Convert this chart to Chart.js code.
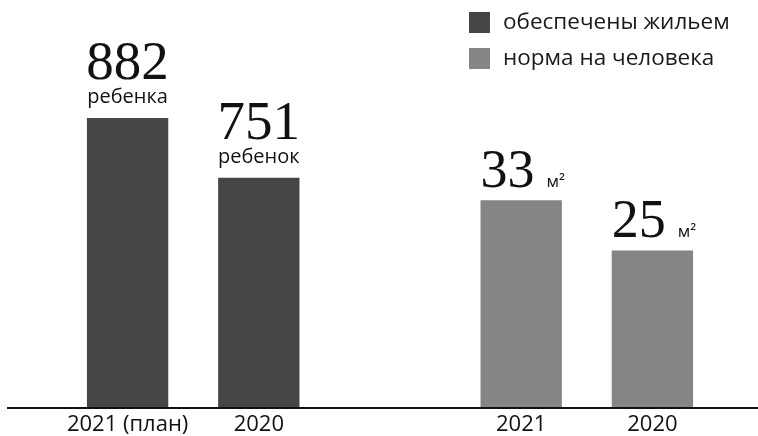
<!DOCTYPE html>
<html lang="ru">
<head>
<meta charset="utf-8">
<title>Обеспечены жильем</title>
<script src="https://cdn.jsdelivr.net/npm/chart.js@4.4.1/dist/chart.umd.min.js"></script>
<style>
  html, body { margin: 0; padding: 0; background: #fff; }
  #wrap { position: relative; width: 758px; height: 436px; }
</style>
</head>
<body>
<div id="wrap"><canvas id="grafico"></canvas></div>
<script>
// данные
const kategorii = ['2021 (план)', '2020', '', '2021', '2020'];
const obespecheny = [882, 751, null, null, null];
const obespechenyPodpisi = ['ребенка', 'ребенок', null, null, null];
const norma = [null, null, null, 33, 25];
const normaPodpisi = [null, null, null, 'м²', 'м²'];
const nazvaniya = ['обеспечены жильем', 'норма на человека'];
const cveta = ['#464646', '#858585'];

const SERIF = '"Liberation Serif", "DejaVu Serif", serif';
const SANS = '"Open Sans", "Noto Sans", sans-serif';

// подписи над столбцами + линия основания
const podpisiPlugin = {
  id: 'podpisi',
  afterDatasetsDraw(chart) {
    const ctx = chart.ctx;
    ctx.save();
    ctx.fillStyle = '#111';
    ctx.textBaseline = 'alphabetic';

    chart.getDatasetMeta(0).data.forEach((bar, i) => {
      const v = obespecheny[i];
      if (v == null) return;
      ctx.textAlign = 'center';
      ctx.font = '20px ' + SANS;
      ctx.fillText(obespechenyPodpisi[i], bar.x, bar.y - 15);
      ctx.font = '55px ' + SERIF;
      ctx.fillText(String(v), bar.x, bar.y - 39);
    });

    chart.getDatasetMeta(1).data.forEach((bar, i) => {
      const v = norma[i];
      if (v == null) return;
      const left = bar.x - bar.width / 2;
      ctx.textAlign = 'left';
      ctx.font = '54px ' + SERIF;
      const s = String(v);
      ctx.fillText(s, left, bar.y - 13);
      const w = ctx.measureText(s).width;
      ctx.font = '17px ' + SANS;
      ctx.fillText(normaPodpisi[i], left + w + 12, bar.y - 13);
    });

    // ось
    const yb = chart.chartArea.bottom + 1;
    ctx.strokeStyle = '#111';
    ctx.lineWidth = 2;
    ctx.beginPath();
    ctx.moveTo(7, yb);
    ctx.lineTo(chart.width, yb);
    ctx.stroke();
    ctx.restore();
  }
};

// легенда справа сверху
const legendaPlugin = {
  id: 'legenda',
  afterDraw(chart) {
    const ctx = chart.ctx;
    ctx.save();
    ctx.textAlign = 'left';
    ctx.textBaseline = 'alphabetic';
    ctx.font = '22.5px ' + SANS;
    chart.data.datasets.forEach((ds, i) => {
      const top = 12 + i * 36;
      ctx.fillStyle = ds.backgroundColor;
      ctx.fillRect(469, top, 21, 21);
      ctx.fillStyle = '#1a1a1a';
      ctx.fillText(ds.label, 503, top + 17);
    });
    ctx.restore();
  }
};

new Chart(document.getElementById('grafico').getContext('2d'), {
  type: 'bar',
  data: {
    labels: kategorii,
    datasets: [
      {
        label: nazvaniya[0],
        data: obespecheny,
        backgroundColor: cveta[0],
        yAxisID: 'y'
      },
      {
        label: nazvaniya[1],
        data: norma,
        backgroundColor: cveta[1],
        yAxisID: 'y2'
      }
    ]
  },
  options: {
    responsive: true,
    maintainAspectRatio: false,
    animation: false,
    layout: { padding: { left: 62, right: 40, top: 0, bottom: 0 } },
    datasets: {
      bar: { grouped: false, barPercentage: 0.62, categoryPercentage: 1 }
    },
    scales: {
      x: {
        // засечки не рисуются (grid выключен), но tickLength даёт отступ подписей
        grid: { display: false, drawTicks: true, tickLength: 7 },
        border: { display: false },
        ticks: { color: '#111', font: { family: SANS, size: 22, lineHeight: 0.82 }, padding: 2, maxRotation: 0 }
      },
      y: { display: false, min: 250, max: 1140 },
      y2: { display: false, min: 0, max: 65 }
    },
    plugins: {
      legend: { display: false },
      tooltip: { enabled: false }
    }
  },
  plugins: [podpisiPlugin, legendaPlugin]
});
</script>
</body>
</html>
